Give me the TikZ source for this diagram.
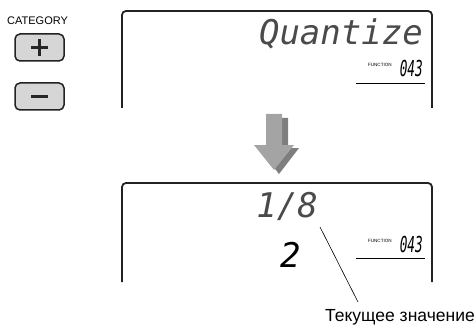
\documentclass[tikz,border=0pt]{standalone}
\usepackage{fontspec}
\usepackage{graphicx}
\setmainfont{Liberation Sans}
\newfontfamily\lcdfont{DejaVu Sans Mono}
\definecolor{framecol}{HTML}{222222}
\definecolor{btnfill}{HTML}{D6D6D6}
\definecolor{arrowmain}{HTML}{A4A4A4}
\definecolor{arrowshade}{HTML}{7E7E7E}
\definecolor{lcdcol}{HTML}{4A4A4A}
\begin{document}
\begin{tikzpicture}[x=1pt,y=-1pt,
  frame/.style={draw=framecol,line width=1.8pt,rounded corners=4pt},
  btn/.style={draw=framecol,line width=1.5pt,fill=btnfill,rounded corners=5pt},
  sign/.style={line width=3pt,draw=black!85},
  lcdbig/.style={inner sep=0pt,font=\lcdfont\itshape\fontsize{34}{34}\selectfont,text=lcdcol},
  lcdsmall/.style={inner sep=0pt,font=\lcdfont\itshape\fontsize{22}{22}\selectfont,text=black},
  tiny/.style={inner sep=0pt,font=\fontsize{4.6}{5}\selectfont},
  uline/.style={line width=0.9pt,draw=black}]
\useasboundingbox (0,0) rectangle (476,326);
% category buttons
\node[anchor=base west,inner sep=0pt,font=\fontsize{11}{12}\selectfont] (cat) at (7,25) {CATEGORY};
\path[btn] (15,34) rectangle (64,61);
\node[inner sep=0pt,minimum size=0pt] (plus) at (39.5,47.5) {};
\draw[sign] ([xshift=-8.5]plus.center) -- ([xshift=8.5]plus.center);
\draw[sign] ([yshift=-8.5]plus.center) -- ([yshift=8.5]plus.center);
\path[btn] (15,83) rectangle (64,110);
\node[inner sep=0pt,minimum size=0pt] (minus) at (39.5,96.5) {};
\draw[sign] ([xshift=-8.5]minus.center) -- ([xshift=8.5]minus.center);
% top display
\draw[frame] (122,108) -- (122,11) -- (432,11) -- (432,108);
\node[lcdbig,anchor=base east] (quant) at (423,45) {Quantize};
\node[lcdsmall,anchor=base east] (num1) at (423,77) {\scalebox{0.58}[1]{043}};
\node[tiny,anchor=base east] (fn1) at (392,67) {FUNCTION};
\draw[uline] (356,83) -- (425,83);
% arrow
\fill[arrowshade] (272,118) -- (288,118) -- (288,148) -- (299,148) -- (279,174) -- (259,148) -- (272,148) -- cycle;
\fill[arrowmain] (266,114) -- (282,114) -- (282,145) -- (294,145) -- (274,170) -- (254,145) -- (266,145) -- cycle;
% bottom display
\draw[frame] (122,282) -- (122,183) -- (432,183) -- (432,282);
\node[lcdbig,anchor=base east] (frac) at (318,217) {1/8};
\node[lcdbig,anchor=base west,text=black] (two) at (280,267) {2};
\node[lcdsmall,anchor=base east] (num2) at (423,252) {\scalebox{0.58}[1]{043}};
\node[tiny,anchor=base east] (fn2) at (392,242) {FUNCTION};
\draw[uline] (356,258) -- (425,258);
% leader and label
\coordinate (leadA) at (320,227);
\coordinate (leadB) at (358,302);
\node[anchor=base east,inner sep=0pt,font=\fontsize{17.5}{19}\selectfont] (label) at (475,321) {Текущее значение};
\draw[line width=0.6pt] (leadA) -- (leadB);
\end{tikzpicture}
\end{document}
